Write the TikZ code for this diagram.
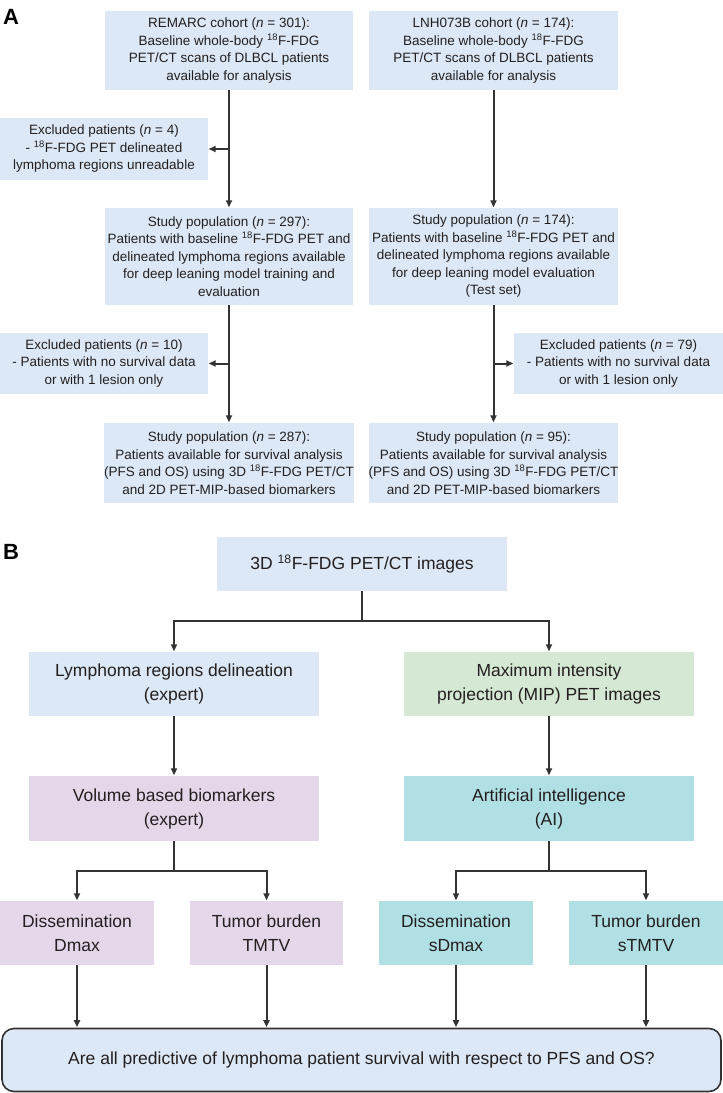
\documentclass[tikz,border=0pt]{standalone}
\usepackage{fontspec}
\setmainfont{Liberation Sans}
\usetikzlibrary{arrows.meta}
\definecolor{boxblue}{HTML}{DCE8F6}
\definecolor{boxgreen}{HTML}{D5E8D4}
\definecolor{boxpurple}{HTML}{E4D7EA}
\definecolor{boxteal}{HTML}{B1E0E4}
\definecolor{linegray}{HTML}{333333}
\definecolor{textgray}{HTML}{231F20}
\begin{document}
\begin{tikzpicture}[x=1pt,y=-1pt,
  abox/.style={fill=boxblue, inner sep=0pt, align=center, text=textgray,
    font=\fontsize{13.5}{17.5}\selectfont},
  bbox/.style={inner sep=0pt, align=center, text=textgray,
    font=\fontsize{17.5}{24}\selectfont},
  conn/.style={draw=linegray, line width=2pt},
  arr/.style={conn, -{Triangle[length=7pt,width=6pt]}, shorten >=0.5pt},
  panel/.style={font=\fontsize{22}{22}\selectfont\bfseries, text=black, inner sep=0pt}
]
\useasboundingbox (0,0) rectangle (723,1093);

% ---------------- Panel A ----------------
\node[panel] (labA) at (11,16.5) {A};

\node[abox, minimum width=248pt, minimum height=79pt] (remarc) at (229,50.5)
  {REMARC cohort (\textit{n} = 301):\\Baseline whole-body \textsuperscript{18}F-FDG\\PET/CT scans of DLBCL patients\\available for analysis};
\node[abox, minimum width=249pt, minimum height=79pt] (lnh) at (493.5,50.5)
  {LNH073B cohort (\textit{n} = 174):\\Baseline whole-body \textsuperscript{18}F-FDG\\PET/CT scans of DLBCL patients\\available for analysis};

\node[abox, minimum width=208pt, minimum height=62pt] (exc4) at (104,149)
  {Excluded patients (\textit{n} = 4)\\- \textsuperscript{18}F-FDG PET delineated\\lymphoma regions unreadable};

\node[abox, minimum width=248pt, minimum height=97pt] (sp297) at (229,256.5)
  {Study population (\textit{n} = 297):\\Patients with baseline \textsuperscript{18}F-FDG PET and\\delineated lymphoma regions available\\for deep leaning model training and\\evaluation};
\node[abox, minimum width=249pt, minimum height=97pt] (sp174) at (493.5,256.5)
  {Study population (\textit{n} = 174):\\Patients with baseline \textsuperscript{18}F-FDG PET and\\delineated lymphoma regions available\\for deep leaning model evaluation\\(Test set)};

\node[abox, minimum width=208pt, minimum height=61pt] (exc10) at (104,363.5)
  {Excluded patients (\textit{n} = 10)\\- Patients with no survival data\\or with 1 lesion only};
\node[abox, minimum width=209pt, minimum height=61pt] (exc79) at (618.5,363.5)
  {Excluded patients (\textit{n} = 79)\\- Patients with no survival data\\or with 1 lesion only};

\node[abox, minimum width=248pt, minimum height=80pt] (sp287) at (229,463)
  {Study population (\textit{n} = 287):\\Patients available for survival analysis\\(PFS and OS) using 3D \textsuperscript{18}F-FDG PET/CT\\and 2D PET-MIP-based biomarkers};
\node[abox, minimum width=249pt, minimum height=80pt] (sp95) at (493.5,463)
  {Study population (\textit{n} = 95):\\Patients available for survival analysis\\(PFS and OS) using 3D \textsuperscript{18}F-FDG PET/CT\\and 2D PET-MIP-based biomarkers};

\draw[arr] (remarc.south) -- (sp297.north);
\draw[arr] (remarc.south |- exc4.east) -- (exc4.east);
\draw[arr] (sp297.south) -- (sp287.north);
\draw[arr] (sp297.south |- exc10.east) -- (exc10.east);
\draw[arr] (lnh.south) -- (sp174.north);
\draw[arr] (sp174.south) -- (sp95.north);
\draw[arr] (sp174.south |- exc79.west) -- (exc79.west);

% ---------------- Panel B ----------------
\node[panel] (labB) at (11,551.5) {B};

\node[bbox, fill=boxblue, minimum width=290pt, minimum height=54pt] (pet) at (362,564)
  {3D \textsuperscript{18}F-FDG PET/CT images};

\node[bbox, fill=boxblue, minimum width=290pt, minimum height=64pt] (lym) at (174,684)
  {Lymphoma regions delineation\\(expert)};
\node[bbox, fill=boxgreen, minimum width=290pt, minimum height=64pt] (mip) at (549,684)
  {Maximum intensity\\projection (MIP) PET images};

\node[bbox, fill=boxpurple, minimum width=290pt, minimum height=65pt] (vol) at (174,808.5)
  {Volume based biomarkers\\(expert)};
\node[bbox, fill=boxteal, minimum width=290pt, minimum height=65pt] (ai) at (549,808.5)
  {Artificial intelligence\\(AI)};

\node[bbox, fill=boxpurple, minimum width=154pt, minimum height=64pt] (diss) at (77,933)
  {Dissemination\\Dmax};
\node[bbox, fill=boxpurple, minimum width=153pt, minimum height=64pt] (tum) at (266.5,933)
  {Tumor burden\\TMTV};
\node[bbox, fill=boxteal, minimum width=154pt, minimum height=64pt] (sdiss) at (456,933)
  {Dissemination\\sDmax};
\node[bbox, fill=boxteal, minimum width=154pt, minimum height=64pt] (stum) at (646,933)
  {Tumor burden\\sTMTV};

\node[bbox, fill=boxblue, draw=linegray, line width=1.6pt, rounded corners=12pt,
  minimum width=719pt, minimum height=63pt] (final) at (361.5,1060)
  {Are all predictive of lymphoma patient survival with respect to PFS and OS?};

\coordinate (br1) at (362,621);
\coordinate (br2) at (174,871);
\coordinate (br3) at (549,871);

\draw[conn] (pet.south) -- (br1);
\draw[arr] (br1) -| (lym.north);
\draw[arr] (br1) -| (mip.north);
\draw[arr] (lym.south) -- (vol.north);
\draw[arr] (mip.south) -- (ai.north);
\draw[conn] (vol.south) -- (br2);
\draw[arr] (br2) -| (diss.north);
\draw[arr] (br2) -| (tum.north);
\draw[conn] (ai.south) -- (br3);
\draw[arr] (br3) -| (sdiss.north);
\draw[arr] (br3) -| (stum.north);
\draw[arr] (diss.south) -- (diss.south |- final.north);
\draw[arr] (tum.south) -- (tum.south |- final.north);
\draw[arr] (sdiss.south) -- (sdiss.south |- final.north);
\draw[arr] (stum.south) -- (stum.south |- final.north);
\end{tikzpicture}
\end{document}
